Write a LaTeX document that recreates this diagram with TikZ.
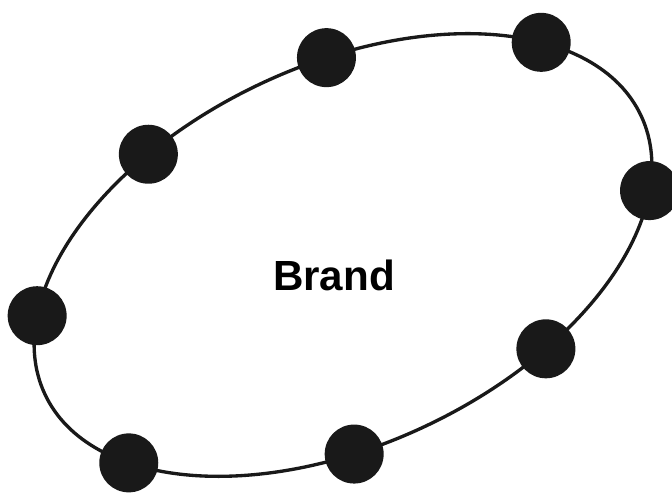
\documentclass[tikz,border=0pt]{standalone}
\usepackage{fontspec}
\setmainfont{Liberation Sans}
\usetikzlibrary{positioning}
\tikzset{dot/.style={circle, fill=black!90, minimum size=1.18cm, inner sep=0pt}}
\begin{document}
\begin{tikzpicture}[x=0.02cm, y=0.02cm]
\useasboundingbox (0,0) rectangle (672,493);
\begin{scope}[shift={(343,238)}, rotate=25]
\draw[line width=1.9pt, black!90] (0,0) ellipse [x radius=329, y radius=190];
\foreach \t [count=\i] in {114,78,35,-22,-64,-103,-149,157}
  \node[dot] (d\i) at (\t:329 and 190) {};
\end{scope}
\node[font=\bfseries\fontsize{24}{28}\selectfont] (brand) at (334,218) {Brand};
\end{tikzpicture}
\end{document}
